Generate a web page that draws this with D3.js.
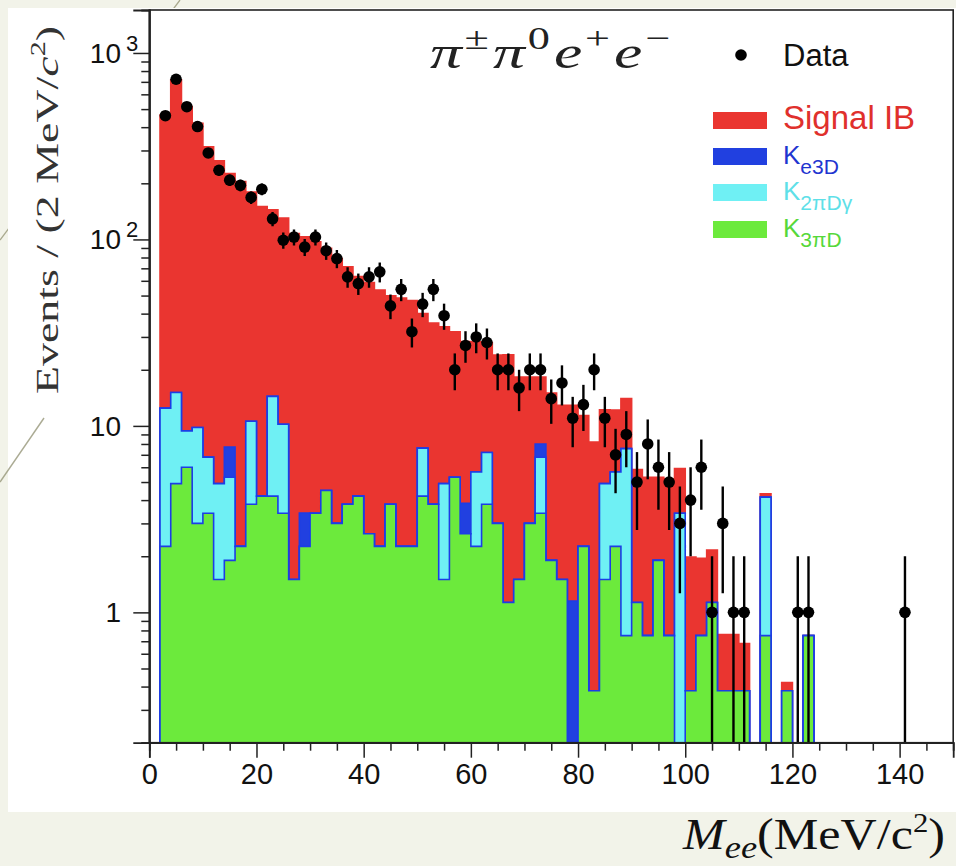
<!DOCTYPE html>
<html><head><meta charset="utf-8">
<script src="https://cdn.jsdelivr.net/npm/d3@7"></script>
<style>
body{margin:0;background:#f2f3e9;}
svg{display:block}
</style>
</head><body>
<svg id="c" width="956" height="866"></svg>
<script>
// ---------- DATA ----------
const binLow = [2,4,6,8,10,12,14,16,18,20,22,24,26,28,30,32,34,36,38,40,42,44,46,48,50,52,54,56,58,60,62,64,66,68,70,72,74,76,78,80,82,84,86,88,90,92,94,96,98,100,102,104,106,108,110,112,114,116,118,120,122];
const binWidth = 2;
const k3piD = [2.26,4.9,6.0,3.0,3.4,1.5,1.9,2.26,3.8,4.2, 4.2,3.4,1.5,2.26,3.4,4.5,3.0,3.8,4.2,2.64, 2.26,3.8,2.26,2.26,4.2,3.8,1.5,5.3,2.64,2.26, 3.8,3.0,1.13,1.5,3.0,3.4,1.9,1.5,0,2.26, 0.38,1.5,2.26,0.75,1.13,0.75,1.9,0.75,0,0.38, 0.75,1.13,0.38,0.38,0.38,0,0.75,0,0.38,0,0.75];
const k2piDg = [10.2,10.2,3.4,6.8,3.4,3.4,3.4,0,6.8,0, 10.2,6.8,0,0,0,0,0,0,0,0, 0,0,0,0,3.4,0,3.4,0,0,3.4, 3.4,0,0,0,0,3.4,0,0,0,0, 0,3.4,3.4,6.8,0,0,0,0,3.4,0, 0,0,0,0,0,0,3.4,0,0,0,0];
const ke3D = [0,0,0,0,0,0,2.4,0,0,0, 0,0,0,1.15,0,0,0,0,0,0, 0,0,0,0,0,0,0,0,1.2,0, 0,0,0,0,0,1.2,0,0,1.15,0, 0,0,0,0,0,0,0,0,0,0, 0,0,0,0,0,0,0,0,0,0,0];
const signalIB = [452,702,506,410,307,259,218,202,169,146, 130,120,106,100,93.6,85,76,67.6,59,56, 51.3,46,46.3,44.8,32.4,31.8,29.1,26.7,24.5,22.6, 20.8,21,22.9,16.8,15.3,10.3,13.1,11.4,11.75,9.1, 7.8,7.3,6.5,6.45,4.7,4.55,3.4,4.45,2.5,1.6, 1.2,1.03,0.38,0.38,0.3,0,0.17,0,0.04,0,0];
const dataX = [3,5,7,9,11,13,15,17,19,21,23,25,27,29,31,33,35,37,39,41,43,45,47,49,51,53,55,57,59,61,63,65,67,69,71,73,75,77,79,81,83,85,87,89,91,93,95,97,99,101,103,105,107,109,111,121,123,141];
const dataY = [461,723,515,403,291,235,208,195,168,186,129,99,103,91,103,87,79,63,58,63,67,44,54,32,45,54,39,20,27,30,28,20,20,16,20,20,14,17,11,13,20,11,7,9,5,8,6,5,3,4,6,1,3,1,1,1,1,1];
const xMajorTicks = [0,20,40,60,80,100,120,140];
const xMinorTicks = [5,10,15,25,30,35,45,50,55,65,70,75,85,90,95,105,110,115,125,130,135,145];
const yMajorTicks = [1,10,100,1000];
const yMajorLabels = [["1",""],["10",""],["10","2"],["10","3"]];
const yMinorTicks = [0.2,0.3,0.4,0.5,0.6,0.7,0.8,0.9,2,3,4,5,6,7,8,9,20,30,40,50,60,70,80,90,200,300,400,500,600,700,800,900];

// ---------- LAYOUT ----------
const svg = d3.select("#c");
const L = 149.3, R = 953.2, T = 10, B = 742.7;
const x = d3.scaleLinear().domain([0,150]).range([L,R]);
const yMin = 0.2;
const y = d3.scaleLog().domain([yMin,1700]).range([B,T]);

const C = {red:"#ea3530", blue:"#2140e0", cyan:"#6ff0f4", green:"#6cea3c", line:"#1c3de6"};

// slide background, decorative lines, white panel
svg.append("rect").attr("width",956).attr("height",866).attr("fill","#f2f3e9");
svg.append("line").attr("x1",180).attr("y1",0).attr("x2",0).attr("y2",240).attr("stroke","#a9a98e").attr("stroke-width",1.3);
svg.append("rect").attr("x",8).attr("y",8).attr("width",948).attr("height",804).attr("fill","#ffffff");
svg.append("line").attr("x1",44).attr("y1",418).attr("x2",0).attr("y2",482).attr("stroke","#8f8f70").attr("stroke-width",1.4).attr("opacity",0.75);

svg.append("clipPath").attr("id","pc").append("rect").attr("x",L).attr("y",T).attr("width",R-L).attr("height",B-T);
const g = svg.append("g").attr("clip-path","url(#pc)");

// cumulative stacks
const cumG = k3piD.slice();
const cumC = cumG.map((v,i)=>v+k2piDg[i]);
const cumB = cumC.map((v,i)=>v+ke3D[i]);
const cumT = cumB.map((v,i)=>v+signalIB[i]);

function stepPts(vals){
  const pts=[{x:binLow[0],v:0}];
  vals.forEach((v,i)=>pts.push({x:binLow[i],v:v}));
  const last=binLow[binLow.length-1]+binWidth;
  pts.push({x:last,v:vals[vals.length-1]});
  pts.push({x:last,v:0});
  return pts;
}
const yc = v => y(Math.max(v, yMin*0.9));
const area = d3.area().x(d=>x(d.x)).y0(B+2).y1(d=>yc(d.v)).curve(d3.curveStepAfter);
const line = d3.line().x(d=>x(d.x)).y(d=>yc(d.v)).curve(d3.curveStepAfter);

const layers = [
  {vals:cumT, fill:C.red, stroke:C.red},
  {vals:cumB, fill:C.blue, stroke:C.line},
  {vals:cumC, fill:C.cyan, stroke:C.line},
  {vals:cumG, fill:C.green, stroke:C.line}
];
layers.forEach(l=>{
  const p = stepPts(l.vals);
  g.append("path").attr("d",area(p)).attr("fill",l.fill);
  g.append("path").attr("d",line(p)).attr("fill","none").attr("stroke",l.stroke).attr("stroke-width",1.6);
});

// data points with sqrt(N) errors
const pts = dataX.map((d,i)=>({x:d,n:dataY[i]}));
g.selectAll("line.err").data(pts).enter().append("line")
  .attr("x1",d=>x(d.x)).attr("x2",d=>x(d.x))
  .attr("y1",d=>yc(d.n-Math.sqrt(d.n))).attr("y2",d=>y(d.n+Math.sqrt(d.n)))
  .attr("stroke","#000").attr("stroke-width",2.4);
g.selectAll("circle.pt").data(pts).enter().append("circle")
  .attr("cx",d=>x(d.x)).attr("cy",d=>y(d.n)).attr("r",5.8).attr("fill","#000");

// frame
svg.append("rect").attr("x",L).attr("y",T).attr("width",R-L).attr("height",B-T)
  .attr("fill","none").attr("stroke","#222").attr("stroke-width",1.6);

// axes
const axF = "Liberation Sans, Arial, sans-serif";
const xAx = svg.append("g").attr("transform",`translate(0,${B})`)
  .call(d3.axisBottom(x).tickValues(xMajorTicks).tickSize(15).tickPadding(6).tickFormat(d3.format("d")));
svg.append("g").attr("transform",`translate(0,${B})`)
  .call(d3.axisBottom(x).tickValues(xMinorTicks).tickSize(8).tickFormat(""));
svg.append("g").attr("transform",`translate(${L},0)`)
  .call(d3.axisLeft(y).tickValues(yMajorTicks).tickSize(16).tickFormat(""));
svg.append("g").attr("transform",`translate(${L},0)`)
  .call(d3.axisLeft(y).tickValues(yMinorTicks).tickSize(8).tickFormat(""));
svg.selectAll(".domain").attr("stroke","#222").attr("stroke-width",1.8);
svg.selectAll(".tick line").attr("stroke","#222").attr("stroke-width",1.5);
xAx.selectAll("text").attr("font-family",axF).attr("font-size",29).attr("fill","#111");

// y tick labels
yMajorTicks.forEach((v,i)=>{
  svg.append("text").attr("x",121).attr("y",y(v)+10)
    .attr("text-anchor","end").attr("font-family",axF).attr("font-size",28).attr("fill","#111")
    .text(yMajorLabels[i][0]);
  if(yMajorLabels[i][1]){
    svg.append("text").attr("x",126).attr("y",y(v)-2).attr("font-family",axF).attr("font-size",22).attr("fill","#111")
      .text(yMajorLabels[i][1]);
  }
});

// y axis title
const serif = "Liberation Serif, Times New Roman, serif";
const yt = svg.append("text").attr("transform","translate(58,210) rotate(-90)")
  .attr("text-anchor","middle").attr("font-family",serif).attr("font-size",32).attr("fill","#333")
  .attr("textLength",368).attr("lengthAdjust","spacingAndGlyphs");
yt.append("tspan").text("Events / (2 MeV/");
yt.append("tspan").attr("font-style","italic").text("c");
yt.append("tspan").attr("font-size",21).attr("dy",-13).text("2");
yt.append("tspan").attr("dy",13).text(")");

// title
const tt = svg.append("text").attr("x",430).attr("y",68).attr("font-family",serif).attr("font-size",46).attr("fill","#222")
  .attr("textLength",240).attr("lengthAdjust","spacingAndGlyphs");
tt.append("tspan").attr("font-style","italic").text("π");
tt.append("tspan").attr("font-size",32).attr("dx",2).attr("dy",-19).text("±");
tt.append("tspan").attr("font-style","italic").attr("dx",3).attr("dy",19).text("π");
tt.append("tspan").attr("font-size",32).attr("dx",2).attr("dy",-19).text("0");
tt.append("tspan").attr("font-style","italic").attr("dx",3).attr("dy",19).text("e");
tt.append("tspan").attr("font-size",32).attr("dx",2).attr("dy",-19).text("+");
tt.append("tspan").attr("font-style","italic").attr("dx",3).attr("dy",19).text("e");
tt.append("tspan").attr("font-size",32).attr("dx",2).attr("dy",-19).text("−");

// legend
svg.append("circle").attr("cx",741).attr("cy",55).attr("r",5.8).attr("fill","#000");
svg.append("text").attr("x",783).attr("y",66).attr("font-family",axF).attr("font-size",31).attr("fill","#111").text("Data");
const leg = [
  {fill:C.red, col:"#e0302c", main:"Signal IB", sub:"", y:112},
  {fill:C.blue, col:"#1f35d0", main:"K", sub:"e3D", y:148},
  {fill:C.cyan, col:"#5ee0e8", main:"K", sub:"2πDγ", y:184},
  {fill:C.green, col:"#56d83a", main:"K", sub:"3πD", y:221}
];
leg.forEach(d=>{
  svg.append("rect").attr("x",713).attr("y",d.y).attr("width",54).attr("height",17).attr("fill",d.fill);
  const t = svg.append("text").attr("x",783).attr("y",d.y+(d.sub?16:17)).attr("font-family",axF)
    .attr("font-size",d.sub?26:33).attr("fill",d.col);
  t.append("tspan").text(d.main);
  if(d.sub) t.append("tspan").attr("font-size",21).attr("dy",10).text(d.sub);
});

// x axis title (below panel)
const xt = svg.append("text").attr("x",683).attr("y",849).attr("font-family",serif).attr("font-size",44).attr("fill","#111")
  .attr("textLength",262).attr("lengthAdjust","spacingAndGlyphs");
xt.append("tspan").attr("font-style","italic").text("M");
xt.append("tspan").attr("font-style","italic").attr("font-size",32).attr("dy",9).text("ee");
xt.append("tspan").attr("dy",-9).text("(MeV/c");
xt.append("tspan").attr("font-size",27).attr("dy",-17).text("2");
xt.append("tspan").attr("dy",17).text(")");
</script>
</body></html>
